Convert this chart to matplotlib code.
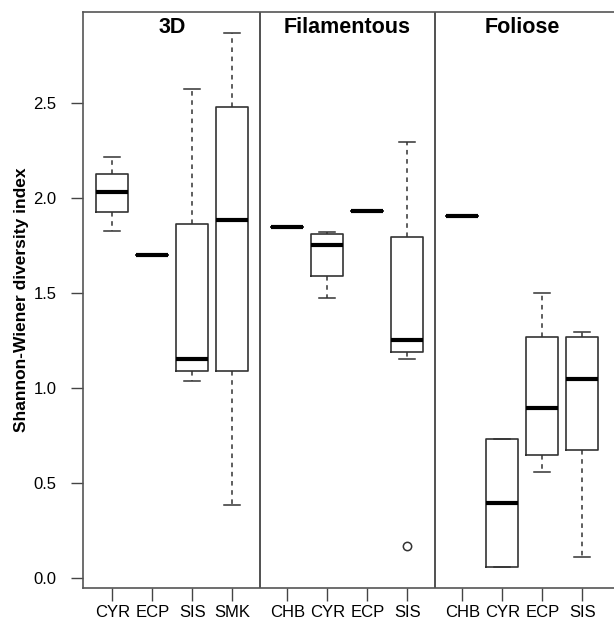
import matplotlib.pyplot as plt

plt.rcParams['font.family'] = ['Liberation Sans', 'DejaVu Sans']

groups = ['3D', 'Filamentous', 'Foliose']
labels = [['CYR', 'ECP', 'SIS', 'SMK'],
          ['CHB', 'CYR', 'ECP', 'SIS'],
          ['CHB', 'CYR', 'ECP', 'SIS']]

# five-number summaries
whislo = [[1.825, 1.70, 1.035, 0.384],
          [1.849, 1.472, 1.932, 1.151],
          [1.905, 0.06, 0.556, 0.109]]
q1 = [[1.928, 1.70, 1.091, 1.091],
      [1.849, 1.589, 1.932, 1.191],
      [1.905, 0.06, 0.647, 0.674]]
med = [[2.03, 1.70, 1.151, 1.886],
       [1.849, 1.753, 1.932, 1.253],
       [1.905, 0.396, 0.893, 1.047]]
q3 = [[2.126, 1.70, 1.863, 2.477],
      [1.849, 1.81, 1.932, 1.793],
      [1.905, 0.732, 1.27, 1.27]]
whishi = [[2.216, 1.70, 2.572, 2.867],
          [1.849, 1.823, 1.932, 2.296],
          [1.905, 0.732, 1.498, 1.296]]
fliers = [[[], [], [], []],
          [[], [], [], [0.17]],
          [[], [], [], []]]

gap = 4.375
fig = plt.figure(figsize=(6.14, 6.21), dpi=100)
ax = fig.add_axes([83 / 614, 33 / 621, 1 - 83 / 614, 576 / 621])

stats, pos, ticklab = [], [], []
for g in range(3):
    for i in range(4):
        stats.append(dict(whislo=whislo[g][i], q1=q1[g][i], med=med[g][i],
                          q3=q3[g][i], whishi=whishi[g][i], fliers=fliers[g][i]))
        pos.append(g * gap + i)
        ticklab.append(labels[g][i])

ax.bxp(stats, positions=pos, widths=0.8, showfliers=True,
       boxprops=dict(color='#333333', linewidth=1.2),
       medianprops=dict(color='black', linewidth=3),
       whiskerprops=dict(color='#333333', linewidth=1.1, linestyle=(0, (3, 3))),
       capprops=dict(color='#333333', linewidth=1.1),
       flierprops=dict(marker='o', markerfacecolor='none', markeredgecolor='#333333',
                       markersize=6, markeredgewidth=1.1),
       manage_ticks=False)

# panel separators
for g in range(1, 3):
    ax.axvline((g - 1) * gap + 3 + (gap - 3) / 2, color='#333333', lw=1.2)

for g in range(3):
    ax.text(g * gap + 1.5, 2.895, groups[g], ha='center', va='center',
            fontsize=15.5, fontweight='bold')

ax.set_xlim(-0.7375, 12.54)
ax.set_ylim(-0.0526, 2.979)
ax.set_xticks(pos)
ax.set_xticklabels(ticklab, fontsize=12)
ax.set_yticks([0, 0.5, 1.0, 1.5, 2.0, 2.5])
ax.set_yticklabels(['0.0', '0.5', '1.0', '1.5', '2.0', '2.5'], fontsize=12)
ax.tick_params(axis='both', length=9, width=1, color='#444444')
ax.tick_params(axis='y', pad=10)
ax.tick_params(axis='x', pad=3)
for s in ['left', 'bottom', 'top']:
    ax.spines[s].set_color('#555555')
    ax.spines[s].set_linewidth(1.2)
ax.spines['right'].set_visible(False)
ax.set_ylabel('Shannon-Wiener diversity index', fontsize=12.5, fontweight='bold', labelpad=3)

fig.savefig('out.png', dpi=100)
